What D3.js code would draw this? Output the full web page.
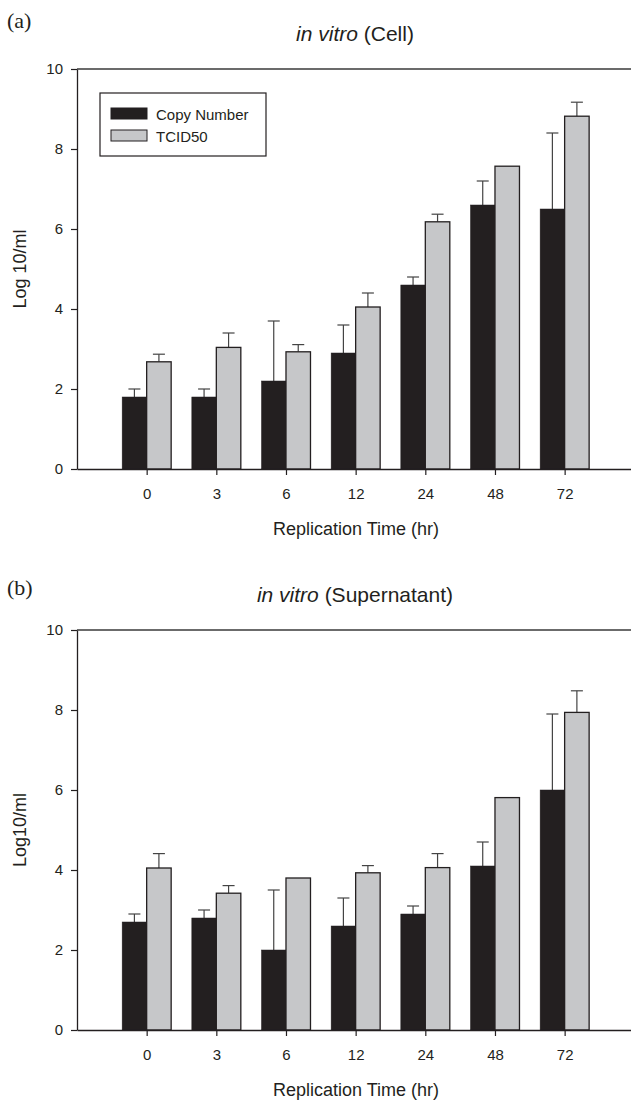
<!DOCTYPE html>
<html>
<head>
<meta charset="utf-8">
<script src="https://cdn.jsdelivr.net/npm/d3@7"></script>
<style>
  html, body { margin: 0; padding: 0; background: #fff; }
  svg { display: block; }
  text { font-family: "Liberation Sans", Arial, sans-serif; fill: #231f20; }
</style>
</head>
<body>
<svg id="chart" width="631" height="1101"></svg>
<script>
// ---- Data ----
const categories = ["0", "3", "6", "12", "24", "48", "72"];
const seriesNames = ["Copy Number", "TCID50"];
const yTicks = [0, 2, 4, 6, 8, 10];

// (a) in vitro (Cell)
const cellCopy     = [1.8, 1.8, 2.2, 2.9, 4.6, 6.6, 6.5];
const cellCopyErr  = [0.2, 0.2, 1.5, 0.7, 0.2, 0.6, 1.9];
const cellTcid     = [2.68, 3.04, 2.93, 4.05, 6.18, 7.57, 8.82];
const cellTcidErr  = [0.19, 0.36, 0.18, 0.35, 0.19, 0, 0.35];

// (b) in vitro (Supernatant)
const supCopy      = [2.7, 2.8, 2.0, 2.6, 2.9, 4.1, 6.0];
const supCopyErr   = [0.2, 0.2, 1.5, 0.7, 0.2, 0.6, 1.9];
const supTcid      = [4.05, 3.42, 3.8, 3.93, 4.06, 5.81, 7.94];
const supTcidErr   = [0.36, 0.19, 0, 0.18, 0.35, 0, 0.54];

const svg = d3.select("#chart");
const colors = { "Copy Number": "#231f20", "TCID50": "#c6c7c9" };

function drawPanel(opt) {
  const left = 77, right = 634.3;
  const top = opt.top, bottom = opt.top + 400;

  const x = d3.scalePoint().domain(categories).range([left, right]).padding(1);
  const xSub = d3.scaleBand().domain(seriesNames).range([-24.5, 24.5]).padding(0);
  const y = d3.scaleLinear().domain([0, 10]).range([bottom, top]);

  const g = svg.append("g");

  // panel letter
  g.append("text").attr("x", 7).attr("y", opt.letterY)
    .style("font-family", "'Liberation Serif', 'Times New Roman', serif")
    .style("font-size", "22px").text(opt.letter);

  // title
  const t = g.append("text").attr("x", 355).attr("y", top - 28)
    .attr("text-anchor", "middle").style("font-size", "21px");
  t.append("tspan").style("font-style", "italic").text("in vitro");
  t.append("tspan").text(" " + opt.titleRest);

  // top frame line
  g.append("line").attr("x1", left).attr("x2", 631).attr("y1", top).attr("y2", top)
    .attr("stroke", "#3a3a3a").attr("stroke-width", 1.3);

  // data rows
  const rows = categories.map((c, i) => ({
    cat: c,
    vals: [
      { s: "Copy Number", v: opt.copy[i], e: opt.copyErr[i] },
      { s: "TCID50", v: opt.tcid[i], e: opt.tcidErr[i] }
    ]
  }));

  const groups = g.selectAll("g.cat").data(rows).enter().append("g")
    .attr("class", "cat")
    .attr("transform", d => `translate(${x(d.cat)},0)`);

  // error bars (upper only)
  groups.selectAll("g.err").data(d => d.vals.filter(v => v.e > 0)).enter().append("g")
    .attr("class", "err")
    .each(function(d) {
      const cx = xSub(d.s) + xSub.bandwidth() / 2;
      const sel = d3.select(this);
      sel.append("line").attr("x1", cx).attr("x2", cx)
        .attr("y1", y(d.v)).attr("y2", y(d.v + d.e))
        .attr("stroke", "#444").attr("stroke-width", 1.2);
      sel.append("line").attr("x1", cx - 6).attr("x2", cx + 6)
        .attr("y1", y(d.v + d.e)).attr("y2", y(d.v + d.e))
        .attr("stroke", "#444").attr("stroke-width", 1.2);
    });

  // bars
  groups.selectAll("rect").data(d => d.vals).enter().append("rect")
    .attr("x", d => xSub(d.s))
    .attr("width", xSub.bandwidth())
    .attr("y", d => y(d.v))
    .attr("height", d => y(0) - y(d.v))
    .attr("fill", d => colors[d.s])
    .attr("stroke", "#231f20")
    .attr("stroke-width", d => d.s === "TCID50" ? 1.3 : 0.5);

  // y axis
  const ya = g.append("g").attr("transform", `translate(${left},0)`)
    .call(d3.axisLeft(y).tickValues(yTicks).tickSize(6).tickPadding(8).tickSizeOuter(0));
  ya.select(".domain").attr("stroke", "#231f20").attr("stroke-width", 1.3);
  ya.selectAll(".tick line").attr("stroke", "#231f20").attr("stroke-width", 1.2);
  ya.selectAll("text").style("font-size", "15px").style("font-family", "'Liberation Sans', Arial, sans-serif").attr("fill", "#231f20");

  // x axis
  const xa = g.append("g").attr("transform", `translate(0,${bottom})`)
    .call(d3.axisBottom(x).tickSize(6).tickPadding(13).tickSizeOuter(0));
  xa.select(".domain").attr("stroke", "#231f20").attr("stroke-width", 1.3);
  xa.selectAll(".tick line").attr("stroke", "#231f20").attr("stroke-width", 1.2);
  xa.selectAll("text").style("font-size", "15px").style("font-family", "'Liberation Sans', Arial, sans-serif").attr("fill", "#231f20");

  // x axis label
  g.append("text").attr("x", 356).attr("y", bottom + 66)
    .attr("text-anchor", "middle").style("font-size", "18px")
    .text("Replication Time (hr)");

  // y axis label
  g.append("text")
    .attr("transform", `translate(26,${(top + bottom) / 2}) rotate(-90)`)
    .attr("text-anchor", "middle").style("font-size", "18px")
    .text(opt.yLabel);

  // legend
  if (opt.legend) {
    const lg = g.append("g");
    lg.append("rect").attr("x", 100).attr("y", top + 24).attr("width", 166).attr("height", 63)
      .attr("fill", "#fff").attr("stroke", "#231f20").attr("stroke-width", 1.2);
    seriesNames.forEach((s, i) => {
      const yy = top + 39 + i * 22;
      lg.append("rect").attr("x", 111).attr("y", yy).attr("width", 36).attr("height", 11)
        .attr("fill", colors[s]).attr("stroke", "#231f20").attr("stroke-width", 1);
      lg.append("text").attr("x", 156).attr("y", yy + 11.5)
        .style("font-size", "15px").text(s);
    });
  }
}

drawPanel({
  top: 69, letter: "(a)", letterY: 28, titleRest: "(Cell)", yLabel: "Log 10/ml",
  copy: cellCopy, copyErr: cellCopyErr, tcid: cellTcid, tcidErr: cellTcidErr, legend: true
});
drawPanel({
  top: 630, letter: "(b)", letterY: 595, titleRest: "(Supernatant)", yLabel: "Log10/ml",
  copy: supCopy, copyErr: supCopyErr, tcid: supTcid, tcidErr: supTcidErr, legend: false
});
</script>
</body>
</html>
